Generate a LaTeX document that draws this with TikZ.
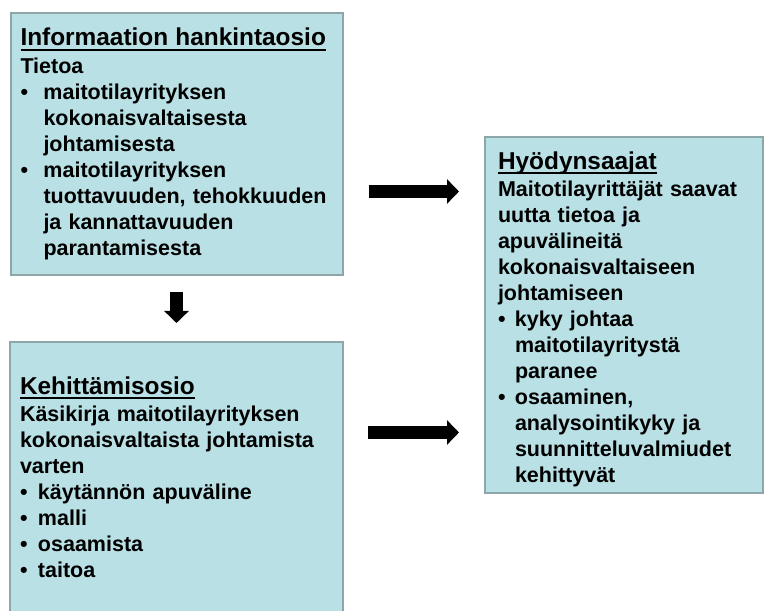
\documentclass[tikz,border=0pt]{standalone}
\usepackage{fontspec}
\setmainfont{Liberation Sans}
\usetikzlibrary{arrows.meta}
\usetikzlibrary{positioning}

\definecolor{taustasini}{RGB}{185,224,228}
\definecolor{reunaharmaa}{RGB}{140,166,170}

\newcommand{\kohta}[1][18pt]{\makebox[#1][l]{\textbullet}}
\newcommand{\jatko}[1][18pt]{\hspace*{#1}}
\newcommand{\otsikko}[1]{{\fontsize{24.4}{26}\selectfont\setbox0\hbox{#1}\rlap{\rule[-5pt]{\wd0}{2pt}}\box0}}

\begin{document}
\begin{tikzpicture}[x=1pt,y=1pt,
  laatikko/.style={draw=reunaharmaa,line width=2pt,fill=taustasini,align=left,inner sep=0pt,
    font=\bfseries\fontsize{21.5}{26}\selectfont},
  nuoli/.style={line width=13pt,-{Triangle[length=12pt,width=24pt]}}]
  \useasboundingbox (0,0) rectangle (764,611);
  \node[laatikko,text width=312pt,minimum width=332pt,minimum height=262pt] (hankinta) at (176.5,467) {\otsikko{Informaation hankintaosio}\\[2pt]
    Tietoa\\
    \kohta[23pt]maitotilayrityksen\\
    \jatko[23pt]kokonaisvaltaisesta\\
    \jatko[23pt]johtamisesta\\
    \kohta[23pt]maitotilayrityksen\\
    \jatko[23pt]tuottavuuden, tehokkuuden\\
    \jatko[23pt]ja kannattavuuden\\
    \jatko[23pt]parantamisesta};
  \node[laatikko,text width=313pt,minimum width=333pt,minimum height=270pt] (kehitys) at (176.5,134) {\otsikko{Kehittämisosio}\\[1pt]
    Käsikirja maitotilayrityksen\\
    kokonaisvaltaista johtamista\\
    varten\\
    \kohta käytännön apuväline\\
    \kohta malli\\
    \kohta osaamista\\
    \kohta taitoa};
  \node[laatikko,text width=252pt,minimum width=278pt,minimum height=356pt] (hyoty) at (624,296) {\rule{0pt}{26pt}\otsikko{Hyödynsaajat}\\[1pt]
    Maitotilayrittäjät saavat\\
    uutta tietoa ja\\
    apuvälineitä\\
    kokonaisvaltaiseen\\
    johtamiseen\\
    \kohta[17pt]kyky johtaa\\
    \jatko[17pt]maitotilayritystä\\
    \jatko[17pt]paranee\\
    \kohta[17pt]osaaminen,\\
    \jatko[17pt]analysointikyky ja\\
    \jatko[17pt]suunnitteluvalmiudet\\
    \jatko[17pt]kehittyvät};
  \draw[nuoli,shorten <=16pt,shorten >=18pt] (hankinta.south) -- (kehitys.north);
  \draw[nuoli,shorten <=25pt,shorten >=25pt] ([yshift=-47.5pt]hankinta.east) -- ([yshift=-47.5pt]hankinta.east -| hyoty.west);
  \draw[nuoli,shorten <=24pt,shorten >=25pt] ([yshift=44.5pt]kehitys.east) -- ([yshift=44.5pt]kehitys.east -| hyoty.west);
\end{tikzpicture}
\end{document}
